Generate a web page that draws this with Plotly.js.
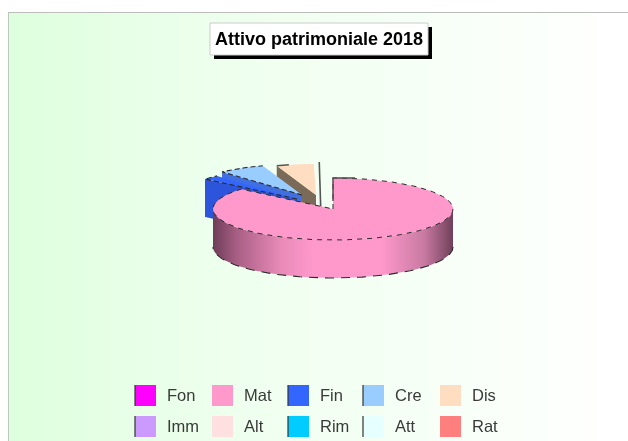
<!DOCTYPE html>
<html><head><meta charset="utf-8">
<script src="https://cdn.plot.ly/plotly-3.0.1.min.js"></script>
<style>html,body{margin:0;padding:0;background:#fff;overflow:hidden}#c{width:628px;height:441px;filter:blur(0.45px)}</style>
</head><body><div id="c"></div>
<script>
// data
const categories = ['Fon','Mat','Fin','Cre','Dis','Imm','Alt','Rim','Att','Rat'];
const values     = [0, 86.1, 2.3, 6.3, 5.0, 0, 0, 0, 0.3, 0];
const titleText  = 'Attivo patrimoniale 2018';
// style
const colors = ['#FF00FF','#FF99CC','#3366FF','#99CCFF','#FFDDC0','#CC99FF','#FFE0E0','#00CCFF','#E6FFFF','#FF7F7F'];
const cutColors = {Fin:'#2C55DC',Cre:'#3F6FE0',Dis:'#7A6A58',Att:'#E6FFFF'};
const pull = {Mat:[0,0],Fin:[-36,-10],Cre:[-31,-14],Dis:[-17,-14],Att:[-11.5,-16]};
const cx=333, cy=209, rx=120, ry=31, depth=38;
const edge='#2a2a2a';

const pt=(a,ox,oy,d=0)=>[cx+ox+rx*Math.sin(a*Math.PI/180), cy+oy-ry*Math.cos(a*Math.PI/180)+d];
const arc=(a0,a1,ox,oy,d=0)=>{const n=Math.max(2,Math.ceil(Math.abs(a1-a0)/2)),r=[];for(let i=0;i<=n;i++)r.push(pt(a0+(a1-a0)*i/n,ox,oy,d));return r;};
const poly=(pts,o)=>Object.assign({type:'scatter',mode:'lines',x:pts.map(p=>p[0]),y:pts.map(p=>p[1]),fill:'toself',hoverinfo:'skip',showlegend:false},o);
const path=(pts,line)=>({type:'scatter',mode:'lines',x:pts.map(p=>p[0]),y:pts.map(p=>p[1]),line,hoverinfo:'skip',showlegend:false});

const total=values.reduce((s,v)=>s+v,0);
let acc=0; const slices=[];
categories.forEach((c,i)=>{const a0=acc/total*360;acc+=values[i];if(values[i]>0)slices.push({c,i,a0,a1:acc/total*360});});

const traces=[];
// background panel
traces.push(poly([[9,13],[627,13],[627,441],[9,441],[9,13]],{line:{width:0},fillcolor:'#E0FFE0',
  fillgradient:{type:'horizontal',colorscale:[[0,'#DEFFDE'],[0.35,'#EEFFEE'],[1,'#FFFFFF']]}}));
// slices back to front: the thin one first, big one last
const dash={color:edge,width:1.1,dash:'5px,3px'};
const none={width:0};
[...slices].reverse().forEach(s=>{
  if(s.c==='Mat')return;
  const [ox,oy]=pull[s.c];
  const apex=[cx+ox,cy+oy];
  const outer=pt(s.a0,ox,oy);
  const thin=(s.a1-s.a0)<3;
  if(thin){
    traces.push(path([outer,[apex[0],apex[1]+depth]],{color:'#555',width:1.6}));
    return;
  }
  traces.push(poly([apex,outer,[outer[0],outer[1]+depth],[apex[0],apex[1]+depth],apex],{fillcolor:cutColors[s.c],line:none}));
  const top=[apex,...arc(s.a0,s.a1,ox,oy),apex];
  traces.push(poly(top,{fillcolor:colors[s.i],line:none}));
  if(s.c==='Dis'){
    traces.push(path(arc(s.a0,s.a0+6,ox,oy),{color:'#555',width:1.4}));
  } else {
    traces.push(path([apex,...arc(s.a0,s.a1,ox,oy)],dash));
  }
});
// big slice: wall then face
const mat=slices.find(s=>s.c==='Mat');
const wall=[...arc(90,270,0,0),...arc(270,90,0,0,depth)];
traces.push(poly([...wall,wall[0]],{line:none,fillcolor:'#FF99CC',
  fillgradient:{type:'horizontal',colorscale:[[0,'#6E3D58'],[0.1,'#A85F84'],[0.28,'#E88AB8'],[0.42,'#FF99CC'],[0.7,'#FF99CC'],[0.88,'#C87AA2'],[1,'#70405A']]}}));
traces.push(path(arc(90,270,0,0,depth),{color:edge,width:1.1,dash:'9px,7px'}));
traces.push(poly([[cx,cy],...arc(mat.a0,mat.a1,0,0),[cx,cy]],{fillcolor:colors[mat.i],line:{color:edge,width:1,dash:'5px,5px'}}));
// solid start edge of the big slice
const startEdge=pt(mat.a0,0,0);
traces.push(path([[cx,cy-8],startEdge,[startEdge[0]+22,startEdge[1]]],{color:'#5a4a52',width:1.5}));

// legend
const colX=[135,212,288,363,440], rowY=[385,416], sw=21;
const shapes=[], annotations=[];
const darkLeft={Fon:1,Fin:1,Cre:1,Imm:1,Rim:1,Att:1};
categories.forEach((c,i)=>{
  const x=colX[i%5], y=rowY[Math.floor(i/5)];
  shapes.push({type:'rect',x0:x,x1:x+sw,y0:y,y1:y+sw,fillcolor:colors[i],line:{width:0}});
  if(darkLeft[c]) shapes.push({type:'line',x0:x,x1:x,y0:y,y1:y+sw,line:{color:'#333',width:1.2}});
  annotations.push({x:x+30,y:y+9.5,xref:'x',yref:'y',xanchor:'left',yanchor:'middle',showarrow:false,text:c,
    font:{family:'"Liberation Sans",Arial,sans-serif',size:16.5,color:'#3a3a3a'}});
});
// frame lines
shapes.push({type:'line',x0:8,x1:628,y0:12.5,y1:12.5,line:{color:'#bcbcbc',width:1}});
shapes.push({type:'line',x0:8.5,x1:8.5,y0:12,y1:441,line:{color:'#bcc8bc',width:1}});
// title box
shapes.push({type:'rect',x0:214,x1:432,y0:27,y1:59,fillcolor:'#000',line:{width:0}});
shapes.push({type:'rect',x0:210,x1:428,y0:23,y1:55,fillcolor:'#fff',line:{color:'#cccccc',width:1}});
annotations.push({x:318.5,y:39,xref:'x',yref:'y',xanchor:'center',yanchor:'middle',showarrow:false,text:'<b>'+titleText+'</b>',
  font:{family:'"Liberation Sans",Arial,sans-serif',size:18,color:'#000'}});

Plotly.newPlot('c',traces,{
  width:628,height:441,margin:{l:0,r:0,t:0,b:0},paper_bgcolor:'#fff',plot_bgcolor:'#fff',showlegend:false,
  xaxis:{range:[0,628],visible:false,fixedrange:true},
  yaxis:{range:[441,0],visible:false,fixedrange:true},
  shapes,annotations
},{displayModeBar:false,staticPlot:true});
</script></body></html>
